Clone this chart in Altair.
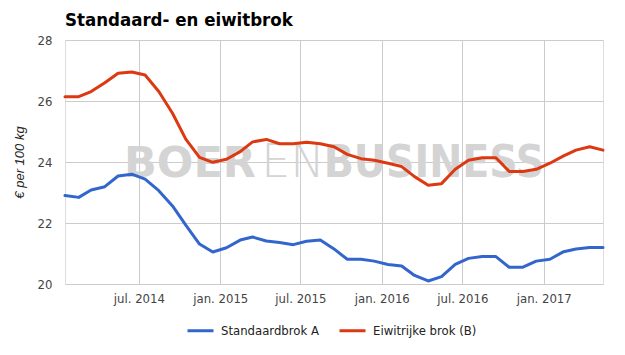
import altair as alt
import pandas as pd

series_names = ["Standaardbrok A", "Eiwitrijke brok (B)"]
colors = ["#3366cc", "#dc3912"]

months = [f"{y}-{m:02d}-15" for y in range(2014, 2018) for m in range(1, 13)][:41]

standaard = [22.90, 22.84, 23.08, 23.19, 23.54, 23.60, 23.44, 23.06, 22.56, 21.93, 21.31, 21.05,
             21.19, 21.44, 21.54, 21.41, 21.36, 21.29, 21.40, 21.44, 21.15, 20.81, 20.81, 20.75,
             20.64, 20.59, 20.28, 20.10, 20.24, 20.64, 20.84, 20.90, 20.90, 20.55, 20.55, 20.75,
             20.81, 21.06, 21.15, 21.20, 21.20]
eiwit = [26.14, 26.14, 26.31, 26.60, 26.91, 26.95, 26.85, 26.31, 25.60, 24.75, 24.15, 23.99,
         24.09, 24.34, 24.66, 24.74, 24.60, 24.60, 24.65, 24.60, 24.50, 24.25, 24.11, 24.06,
         23.96, 23.85, 23.52, 23.24, 23.29, 23.76, 24.06, 24.14, 24.14, 23.69, 23.69, 23.76,
         23.96, 24.20, 24.39, 24.50, 24.39]

y_ticks = [20, 22, 24, 26, 28]
x_tick_months = [(2014, 7), (2015, 1), (2015, 7), (2016, 1), (2016, 7), (2017, 1)]

rows = []
for name, vals in zip(series_names, [standaard, eiwit]):
    for d, v in zip(months, vals):
        rows.append({"date": d, "value": v, "series": name})
df = pd.DataFrame(rows)

FONT = "DejaVu Sans Condensed"

lines = alt.Chart(df).mark_line(strokeWidth=3, strokeJoin="round", strokeCap="round").encode(
    x=alt.X("date:T",
            scale=alt.Scale(type="utc",
                            domain=[alt.DateTime(year=2014, month=1, date=15, utc=True),
                                    alt.DateTime(year=2017, month=5, date=15, utc=True)]),
            axis=alt.Axis(values=[alt.DateTime(year=y, month=m, date=1, utc=True) for y, m in x_tick_months],
                          labelExpr="(utcmonth(datum.value) == 0 ? 'jan. ' : 'jul. ') + utcyear(datum.value)",
                          grid=True, gridColor="#cccccc", domain=False, ticks=False,
                          labelFont=FONT, labelFontSize=13, labelColor="#444444",
                          labelPadding=8, labelOverlap=False, labelFlush=False, title=None)),
    y=alt.Y("value:Q",
            scale=alt.Scale(domain=[20, 28], nice=False, zero=False),
            axis=alt.Axis(values=y_ticks, grid=True, gridColor="#cccccc", domain=False, ticks=False,
                          labelFont=FONT, labelFontSize=13, labelColor="#444444", labelPadding=13,
                          title="€ per 100 kg", titleFont="Liberation Sans", titleFontStyle="italic",
                          titleFontWeight="normal", titleFontSize=13, titleColor="#222222",
                          titleX=-46, titleY=122, titleAlign="center", titleBaseline="middle",
                          titleAngle=-90)),
    color=alt.Color("series:N",
                    scale=alt.Scale(domain=series_names, range=colors),
                    sort=series_names,
                    legend=alt.Legend(orient="none", legendX=121, legendY=276, direction="horizontal",
                                      title=None, symbolType="stroke", symbolStrokeWidth=3,
                                      symbolSize=676, labelFont=FONT, labelFontSize=13,
                                      labelColor="#222222", columnPadding=14, labelOffset=6,
                                      padding=0)),
)

wm_color = "#d4d4d4"
wm1 = alt.Chart(pd.DataFrame({"t": ["BOER"]})).mark_text(
    font="DejaVu Sans", fontWeight="bold", fontSize=43, color=wm_color, align="center", baseline="alphabetic"
).encode(text="t:N", x=alt.value(125), y=alt.value(137))
wm2 = alt.Chart(pd.DataFrame({"t": ["EN"]})).mark_text(
    font="DejaVu Sans", fontWeight=200, fontSize=46, color=wm_color, align="center", baseline="alphabetic"
).encode(text="t:N", x=alt.value(228), y=alt.value(137))
wm3 = alt.Chart(pd.DataFrame({"t": ["BUSINESS"]})).mark_text(
    font=FONT, fontWeight="bold", fontSize=44, color=wm_color, align="center", baseline="alphabetic"
).encode(text="t:N", x=alt.value(369), y=alt.value(137))

chart = alt.layer(wm1, wm2, wm3, lines).properties(
    width=538, height=244,
    title=alt.Title("Standaard- en eiwitbrok", anchor="start", frame="group", font=FONT,
                    fontSize=18.5, fontWeight="bold", color="#000000", offset=5),
    padding={"left": 65, "top": 40, "right": 22, "bottom": 71},
    autosize=alt.AutoSizeParams(type="none"),
).configure_view(stroke=None).configure(background="white")

chart.save("out.html", embed_options={"renderer": "svg", "actions": False})
